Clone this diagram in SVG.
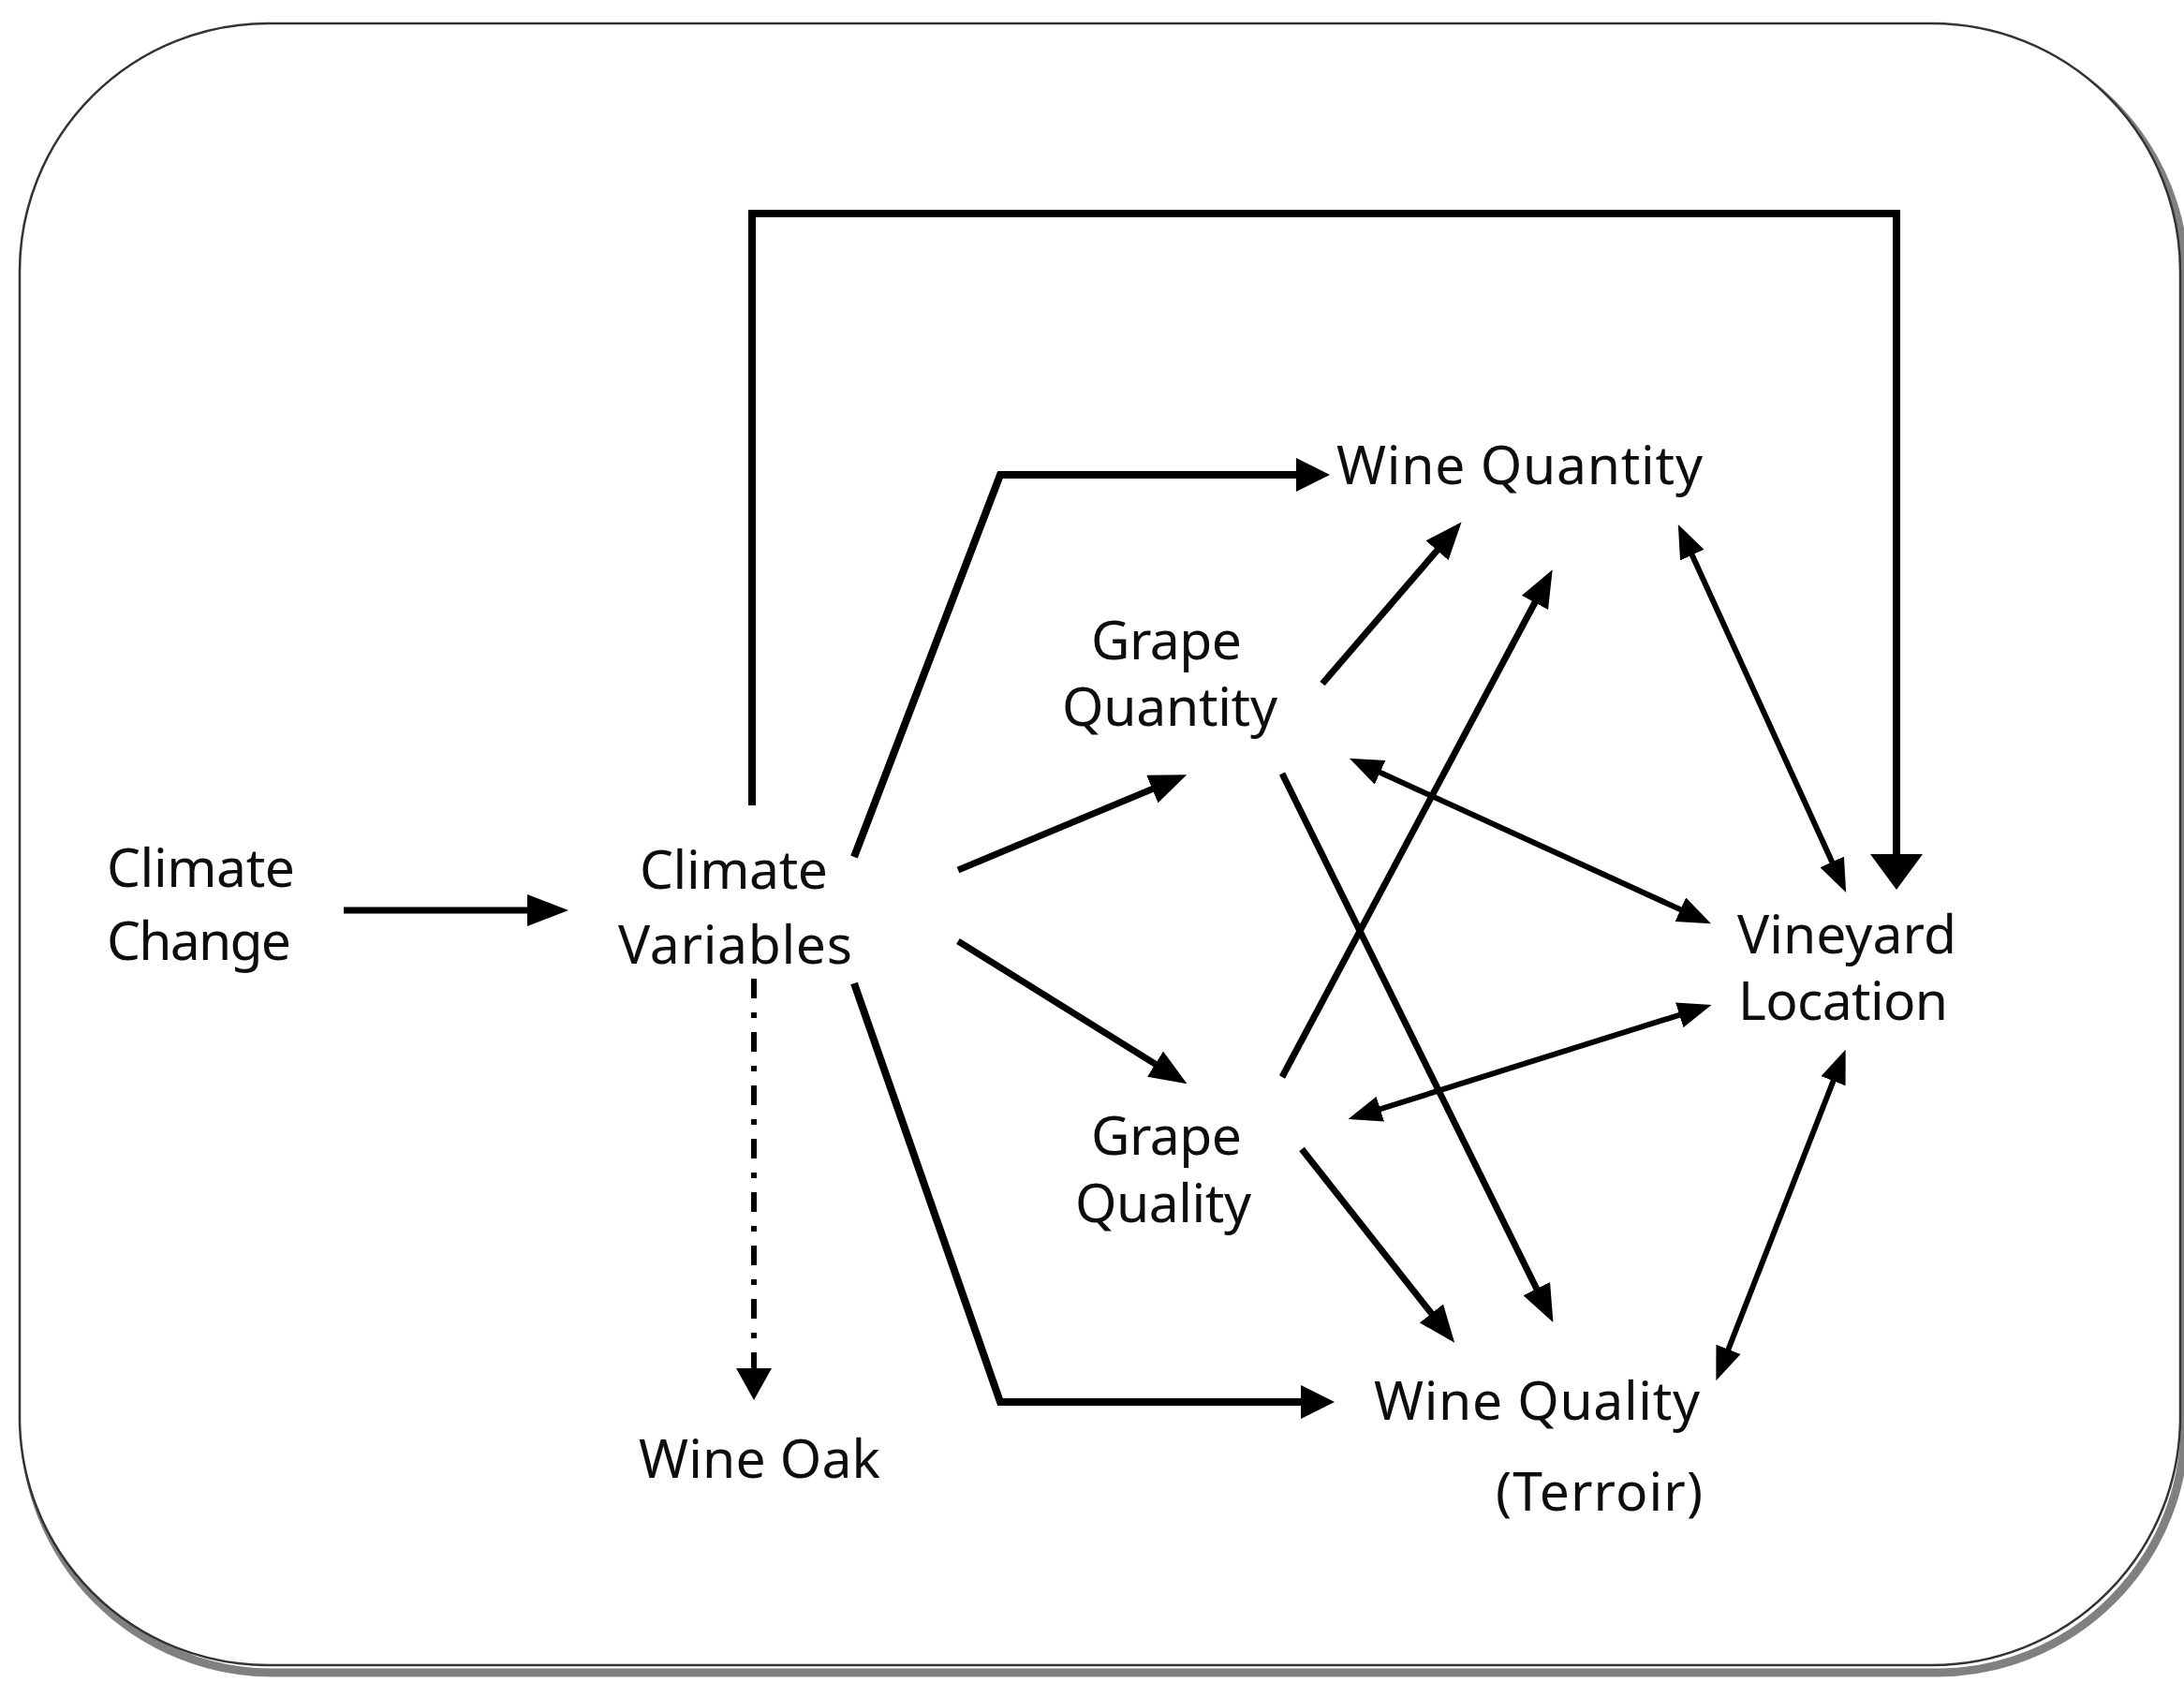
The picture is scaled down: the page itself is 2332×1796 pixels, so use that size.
<svg xmlns="http://www.w3.org/2000/svg" width="2332" height="1796" viewBox="0 0 2332 1796">
<defs>
<style>
.lbl{font-family:"Noto Sans","Open Sans","Liberation Sans",sans-serif;font-size:57px;fill:#0d0d0d;}
.ln{fill:none;stroke:#000;stroke-linejoin:miter;stroke-linecap:butt;}
.w8{stroke-width:8}
.w7{stroke-width:7}
.w6{stroke-width:6}
.dd{stroke-dasharray:21 15 6 15}
</style>
<marker id="ah" markerUnits="userSpaceOnUse" markerWidth="40" markerHeight="32" refX="30" refY="16" orient="auto-start-reverse"><path d="M0,0 L40,16 L0,32 z" fill="#000"/></marker>
<marker id="ahs" markerUnits="userSpaceOnUse" markerWidth="36" markerHeight="28" refX="26" refY="14" orient="auto-start-reverse"><path d="M0,0 L36,14 L0,28 z" fill="#000"/></marker>
<marker id="ahw" markerUnits="userSpaceOnUse" markerWidth="36" markerHeight="36" refX="26" refY="18" orient="auto"><path d="M0,0 L36,18 L0,36 z" fill="#000"/></marker>
<marker id="ahcc" markerUnits="userSpaceOnUse" markerWidth="44" markerHeight="34" refX="34" refY="17" orient="auto"><path d="M0,0 L44,17 L0,34 z" fill="#000"/></marker>
<marker id="ahbig" markerUnits="userSpaceOnUse" markerWidth="38" markerHeight="56" refX="28" refY="28" orient="auto"><path d="M0,0 L38,28 L0,56 z" fill="#000"/></marker>
<marker id="ahd" markerUnits="userSpaceOnUse" markerWidth="34" markerHeight="38" refX="24" refY="19" orient="auto"><path d="M0,0 L34,19 L0,38 z" fill="#000"/></marker>
</defs>
<rect x="0" y="0" width="2332" height="1796" fill="#fff"/>
<g id="frame">
<rect x="26" y="33" width="2307" height="1753" rx="265" ry="265" fill="none" stroke="#808080" stroke-width="9"/>
<rect x="21" y="25" width="2307" height="1753" rx="265" ry="265" fill="#fff" stroke="#333" stroke-width="2.5"/>
</g>
<g id="connectors">
<line class="ln w7" x1="367" y1="972" x2="597" y2="972" marker-end="url(#ahcc)"/>
<polyline class="ln w8" points="912,915 1068,507 1410,507" marker-end="url(#ahw)"/>
<polyline class="ln w8" points="912,1050 1068,1497 1415,1497" marker-end="url(#ahw)"/>
<line class="ln w7" x1="1023" y1="929" x2="1258" y2="831" marker-end="url(#ah)"/>
<line class="ln w7" x1="1023" y1="1005" x2="1259" y2="1152" marker-end="url(#ah)"/>
<line class="ln w6 dd" x1="805" y1="1045" x2="805" y2="1485" marker-end="url(#ahd)"/>
<polyline class="ln w8" points="803,860 803,228 2025,228 2025,940" marker-end="url(#ahbig)"/>
<line class="ln w7" x1="1412" y1="730" x2="1554" y2="565" marker-end="url(#ah)"/>
<line class="ln w7" x1="1369" y1="826" x2="1654" y2="1403" marker-end="url(#ah)"/>
<line class="ln w7" x1="1369" y1="1150" x2="1653" y2="617" marker-end="url(#ah)"/>
<line class="ln w7" x1="1390" y1="1227" x2="1547" y2="1426" marker-end="url(#ah)"/>
<line class="ln w6" x1="1450" y1="814" x2="1818" y2="982" marker-start="url(#ahs)" marker-end="url(#ahs)"/>
<line class="ln w6" x1="1449" y1="1192" x2="1818" y2="1076" marker-start="url(#ahs)" marker-end="url(#ahs)"/>
<line class="ln w6" x1="1796" y1="569" x2="1967" y2="944" marker-start="url(#ahs)" marker-end="url(#ahs)"/>
<line class="ln w6" x1="1836" y1="1465" x2="1967" y2="1130" marker-start="url(#ahs)" marker-end="url(#ahs)"/>
</g>
<g id="climate-change">
<text class="lbl" x="114" y="947" textLength="201">Climate</text>
<text class="lbl" x="114" y="1025" textLength="197">Change</text>
</g>
<g id="climate-variables">
<text class="lbl" x="683" y="949" textLength="201">Climate</text>
<text class="lbl" x="660" y="1029" textLength="250">Variables</text>
</g>
<g id="wine-quantity">
<text class="lbl" x="1427" y="517" textLength="391">Wine Quantity</text>
</g>
<g id="grape-quantity">
<text class="lbl" x="1165" y="704" textLength="161">Grape</text>
<text class="lbl" x="1134" y="775" textLength="230">Quantity</text>
</g>
<g id="grape-quality">
<text class="lbl" x="1165" y="1233" textLength="161">Grape</text>
<text class="lbl" x="1148" y="1305" textLength="188">Quality</text>
</g>
<g id="vineyard-location">
<text class="lbl" x="1855" y="1018" textLength="234">Vineyard</text>
<text class="lbl" x="1856" y="1089" textLength="224">Location</text>
</g>
<g id="wine-quality">
<text class="lbl" x="1467" y="1516" textLength="348">Wine Quality</text>
<text class="lbl" x="1597" y="1613" textLength="221">(Terroir)</text>
</g>
<g id="wine-oak">
<text class="lbl" x="682" y="1578" textLength="258">Wine Oak</text>
</g>
</svg>
